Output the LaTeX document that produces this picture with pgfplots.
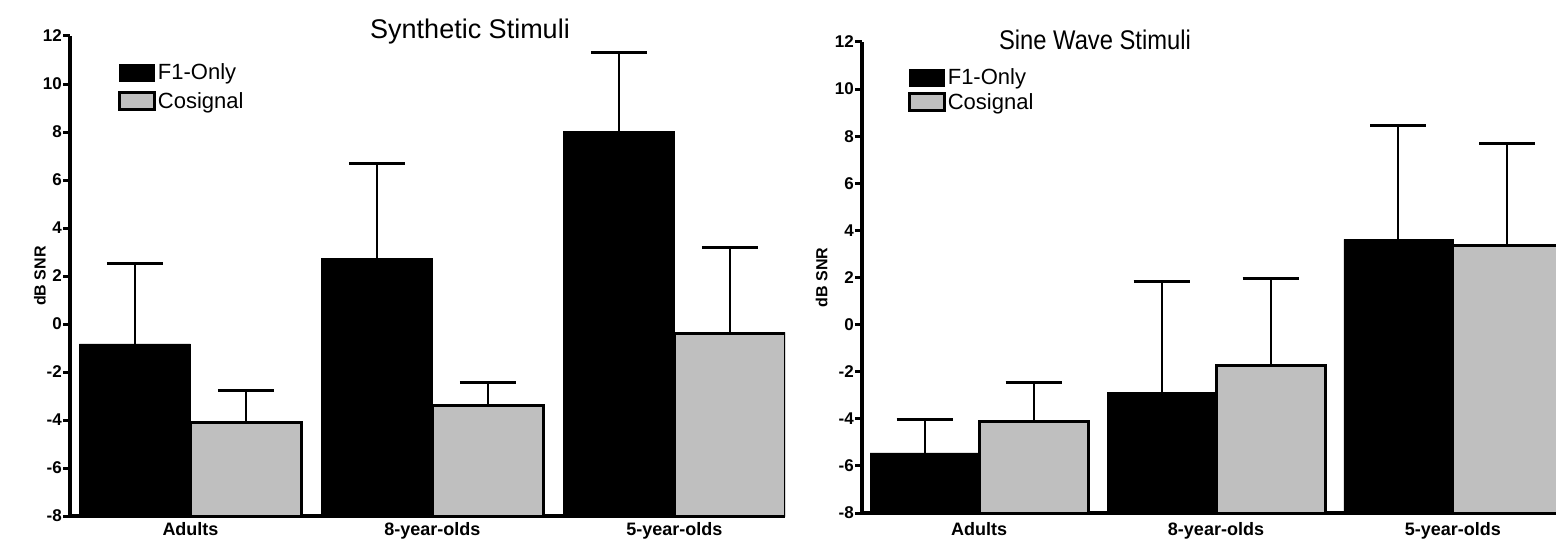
\documentclass[border=0pt]{standalone}
\usepackage{pgfplots}
\pgfplotsset{compat=1.18}
\usepackage{fontspec}
\setmainfont{Liberation Sans}

\pgfplotsset{
  panel/.style={
    scale only axis, anchor=south west,
    ybar=0pt,
    ymin=-8, ymax=12,
    y coord trafo/.code={\pgfmathparse{##1+8}},
    y coord inv trafo/.code={\pgfmathparse{##1-8}},
    ytick={-8,-6,-4,-2,0,2,4,6,8,10,12},
    yticklabels={-8,-6,-4,-2,0,2,4,6,8,10,12},
    xtick={0,1,2},
    xticklabels={Adults,8-year-olds,5-year-olds},
    axis lines*=left,
    axis line style={line width=3.5pt},
    tick align=outside,
    major tick length=7pt,
    ytick style={line width=3pt,black},
    xtick style={draw=none},
    yticklabel style={font=\bfseries\fontsize{17}{17}\selectfont, inner sep=1pt},
    xticklabel style={font=\bfseries\fontsize{18}{18}\selectfont, inner sep=0pt, anchor=north},
    ylabel={dB SNR},
    ylabel style={font=\bfseries\fontsize{16}{16}\selectfont, anchor=center},
    legend cell align=left,
  },
  errs/.style={
    error bars/y dir=plus, error bars/y explicit,
    error bars/error mark=|,
    error bars/error bar style={line width=2pt, black},
    error bars/error mark options={line width=3pt, mark size=28pt, black}},
  legbox/.style={legend image code/.code={\draw[##1] (0pt,-8.5pt) rectangle (35pt,8.5pt);}},
  f1bar/.style={fill=black, draw=black, line width=0.6pt, errs, legbox},
  cobar/.style={fill=black!25, draw=black, line width=3pt, errs, legbox},
}

\begin{document}
\begin{tikzpicture}
\clip (0,0) rectangle (1556pt,539pt);

% Left panel: Synthetic Stimuli
\begin{axis}[panel,
  at={(70pt,23pt)}, width=715pt, height=480pt,
  bar width=111pt,
  xmin=-0.498, xmax=2.457,
  xticklabel style={yshift=1pt},
  ylabel style={at={(axis description cs:-0.042,0.5)}},
  legend style={draw=none, fill=none, inner sep=0pt, outer sep=0pt, row sep=7pt,
      font=\fontsize{22}{24}\selectfont, anchor=north west,
      nodes={inner sep=2pt}, at={(axis description cs:0.067,0.946)}},
]
\addplot[f1bar] coordinates {(0,-0.83) +- (0,3.37) (1,2.75) +- (0,3.95) (2,8.04) +- (0,3.29)};
\addplot[cobar] coordinates {(0,-4.10) +- (0,1.35) (1,-3.38) +- (0,0.96) (2,-0.38) +- (0,3.55)};
\legend{F1-Only,Cosignal}
\end{axis}
\node[anchor=base, font=\fontsize{27}{27}\selectfont] at (470pt,500pt) {Synthetic Stimuli};

% Right panel: Sine Wave Stimuli
\begin{axis}[panel,
  at={(862pt,26pt)}, width=694pt, height=471pt,
  bar width=109pt,
  xmin=-0.494, xmax=2.435,
  xticklabel style={yshift=-2pt},
  ylabel style={at={(axis description cs:-0.058,0.5)}},
  legend style={draw=none, fill=none, inner sep=0pt, outer sep=0pt, row sep=3pt,
      font=\fontsize{22}{24}\selectfont, anchor=north west,
      nodes={inner sep=2pt}, at={(axis description cs:0.066,0.947)}},
]
\addplot[f1bar] coordinates {(0,-5.45) +- (0,1.44) (1,-2.87) +- (0,4.69) (2,3.62) +- (0,4.85)};
\addplot[cobar] coordinates {(0,-4.11) +- (0,1.67) (1,-1.75) +- (0,3.72) (2,3.37) +- (0,4.32)};
\legend{F1-Only,Cosignal}
\end{axis}
\node[anchor=base, font=\fontsize{27}{27}\selectfont] at (1095pt,489pt) {\scalebox{0.88}[1]{Sine Wave Stimuli}};
\end{tikzpicture}
\end{document}
